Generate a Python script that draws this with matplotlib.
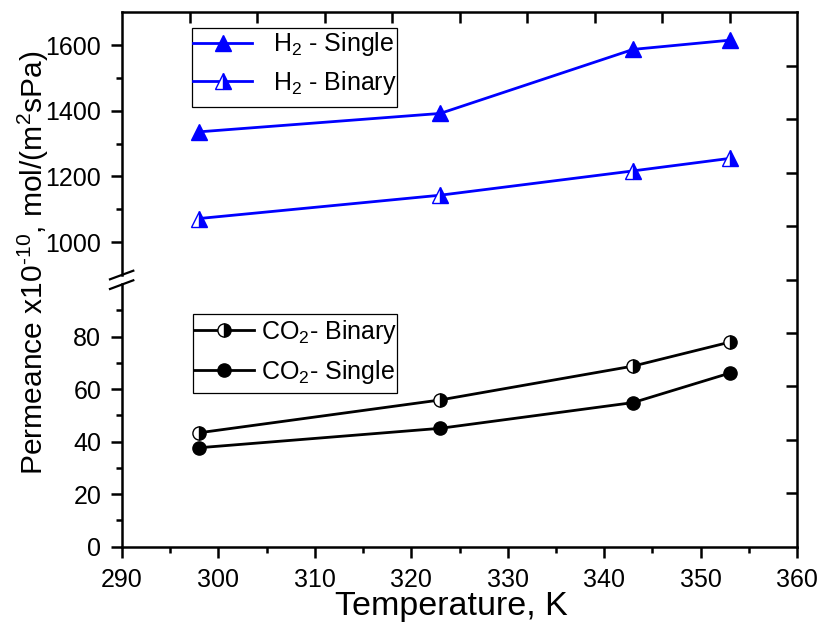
import matplotlib
matplotlib.use("Agg")
import matplotlib.pyplot as plt
from matplotlib.lines import Line2D
from matplotlib.patches import Rectangle
from matplotlib.ticker import MultipleLocator, FixedLocator

plt.rcParams['font.family'] = ['Liberation Sans', 'DejaVu Sans']
plt.rcParams['mathtext.fontset'] = 'custom'
plt.rcParams['mathtext.rm'] = 'Liberation Sans'
plt.rcParams['mathtext.it'] = 'Liberation Sans:italic'
plt.rcParams['mathtext.bf'] = 'Liberation Sans:bold'

# Data: permeance (x1e-10 mol/(m2 s Pa)) vs temperature (K)
temperature = [298, 323, 343, 353]
h2_single = [1336, 1392, 1587, 1615]
h2_binary = [1072, 1143, 1217, 1255]
co2_binary = [43.4, 55.9, 68.8, 77.9]
co2_single = [37.7, 45.1, 54.9, 66.1]

labels_h2 = ["H$_2$ - Single", "H$_2$ - Binary"]
labels_co2 = ["CO$_2$- Binary", "CO$_2$- Single"]

W, H = 823, 631
fig = plt.figure(figsize=(W / 100, H / 100), dpi=100)


def fx(px):
    return px / W


def fy(py):
    return 1 - py / H


left_px, right_px = 122, 797
top_px, bottom_px = 12.3, 546.7
hi_bottom_px, lo_top_px = 275.0, 284.2

axw = fx(right_px) - fx(left_px)
ax_lo = fig.add_axes([fx(left_px), fy(bottom_px), axw, fy(lo_top_px) - fy(bottom_px)])
ax_hi = fig.add_axes([fx(left_px), fy(hi_bottom_px), axw, fy(top_px) - fy(hi_bottom_px)])
ax_fr = fig.add_axes([fx(left_px), fy(bottom_px), axw, fy(top_px) - fy(bottom_px)])
ax_fr.patch.set_visible(False)

SPW = 1.8
TICKFS = 18
for ax in (ax_lo, ax_hi, ax_fr):
    ax.set_xlim(290, 360)
    for s in ax.spines.values():
        s.set_linewidth(SPW)

# lower panel (CO2)
ax_lo.set_ylim(0, 100)
ax_lo.spines['top'].set_visible(False)
ax_lo.spines['right'].set_visible(False)
ax_lo.xaxis.set_major_locator(MultipleLocator(10))
ax_lo.xaxis.set_minor_locator(MultipleLocator(5))
ax_lo.yaxis.set_major_locator(FixedLocator([0, 20, 40, 60, 80]))
ax_lo.yaxis.set_minor_locator(FixedLocator([10, 30, 50, 70, 90]))
ax_lo.tick_params(which='major', length=8, width=SPW, direction='out',
                  labelsize=TICKFS, pad=7, top=False, right=False)
ax_lo.tick_params(which='minor', length=4.5, width=SPW, direction='out',
                  top=False, right=False)

# upper panel (H2)
ax_hi.set_ylim(900, 1700)
ax_hi.spines['top'].set_visible(False)
ax_hi.spines['right'].set_visible(False)
ax_hi.spines['bottom'].set_visible(False)
ax_hi.yaxis.set_major_locator(FixedLocator([1000, 1200, 1400, 1600]))
ax_hi.yaxis.set_minor_locator(FixedLocator([1100, 1300, 1500]))
ax_hi.tick_params(axis='x', which='both', bottom=False, top=False, labelbottom=False)
ax_hi.tick_params(axis='y', which='major', length=8, width=SPW, direction='out',
                  labelsize=TICKFS, pad=7, right=False)
ax_hi.tick_params(axis='y', which='minor', length=4.5, width=SPW, direction='out',
                  right=False)

# frame axes: top and right spines with inward ticks
ax_fr.set_ylim(0, 10)
ax_fr.spines['left'].set_visible(False)
ax_fr.spines['bottom'].set_visible(False)
ax_fr.xaxis.set_major_locator(FixedLocator(list(range(297, 360, 7))))
ax_fr.yaxis.set_major_locator(FixedLocator(list(range(1, 10))))
ax_fr.xaxis.set_minor_locator(FixedLocator([]))
ax_fr.yaxis.set_minor_locator(FixedLocator([]))
ax_fr.tick_params(axis='x', which='major', top=True, bottom=False, direction='in',
                  length=8, width=SPW, labelbottom=False, labeltop=False)
ax_fr.tick_params(axis='y', which='major', right=True, left=False, direction='in',
                  length=7.7, width=SPW, labelleft=False, labelright=False)

LW = 2.0
blue = '#0000ff'
l1, = ax_hi.plot(temperature, h2_single, color=blue, lw=LW, marker='^', ms=12,
                 mfc=blue, mec=blue, mew=1, clip_on=False)
l2, = ax_hi.plot(temperature, h2_binary, color=blue, lw=LW, marker='^', ms=12,
                 fillstyle='right', mfc=blue, markerfacecoloralt='white', mec=blue,
                 mew=1, clip_on=False)
l3, = ax_lo.plot(temperature, co2_binary, color='black', lw=LW, marker='o', ms=9.5,
                 fillstyle='right', mfc='black', markerfacecoloralt='white',
                 mec='black', mew=1, clip_on=False)
l4, = ax_lo.plot(temperature, co2_single, color='black', lw=LW, marker='o', ms=9.5,
                 mfc='black', mec='black', mew=1, clip_on=False)

LEGFS = 18
leg1 = fig.legend([l1, l2], labels_h2, loc='center left',
                  bbox_to_anchor=(fx(193), fy(63.5)), bbox_transform=fig.transFigure,
                  borderaxespad=0, borderpad=0, fontsize=LEGFS, frameon=False,
                  handlelength=2.36, handletextpad=0.84, labelspacing=0.42,
                  numpoints=1)
leg2 = fig.legend([l3, l4], labels_co2, loc='center left',
                  bbox_to_anchor=(fx(194), fy(351.5)), bbox_transform=fig.transFigure,
                  borderaxespad=0, borderpad=0, fontsize=LEGFS, frameon=False,
                  handlelength=2.4, handletextpad=0.27, labelspacing=0.48,
                  numpoints=1)

# legend boxes
for (x0, y0, x1, y1) in [(191.7, 27.7, 397, 106.7), (193, 314, 397, 393)]:
    fig.add_artist(Rectangle((fx(x0), fy(y1)), fx(x1) - fx(x0), fy(y0) - fy(y1),
                             fill=False, edgecolor='black', lw=0.9,
                             transform=fig.transFigure, zorder=5))

# axis break marks on the left spine
for (x0, y0, x1, y1) in [(110, 279.3, 133.3, 270.7), (110, 289.0, 133.3, 280.3)]:
    fig.add_artist(Line2D([fx(x0), fx(x1)], [fy(y0), fy(y1)], color='black',
                          lw=1.6, transform=fig.transFigure))

fig.text(fx(451), fy(607), "Temperature, K", fontsize=24.5, ha='center', va='center')
fig.text(fx(33), fy(262.5), "Permeance x10$^{\u201010}$, mol/(m$^2$sPa)", fontsize=21.6,
         rotation=90, ha='center', va='center')

fig.savefig("out.png", dpi=100)
